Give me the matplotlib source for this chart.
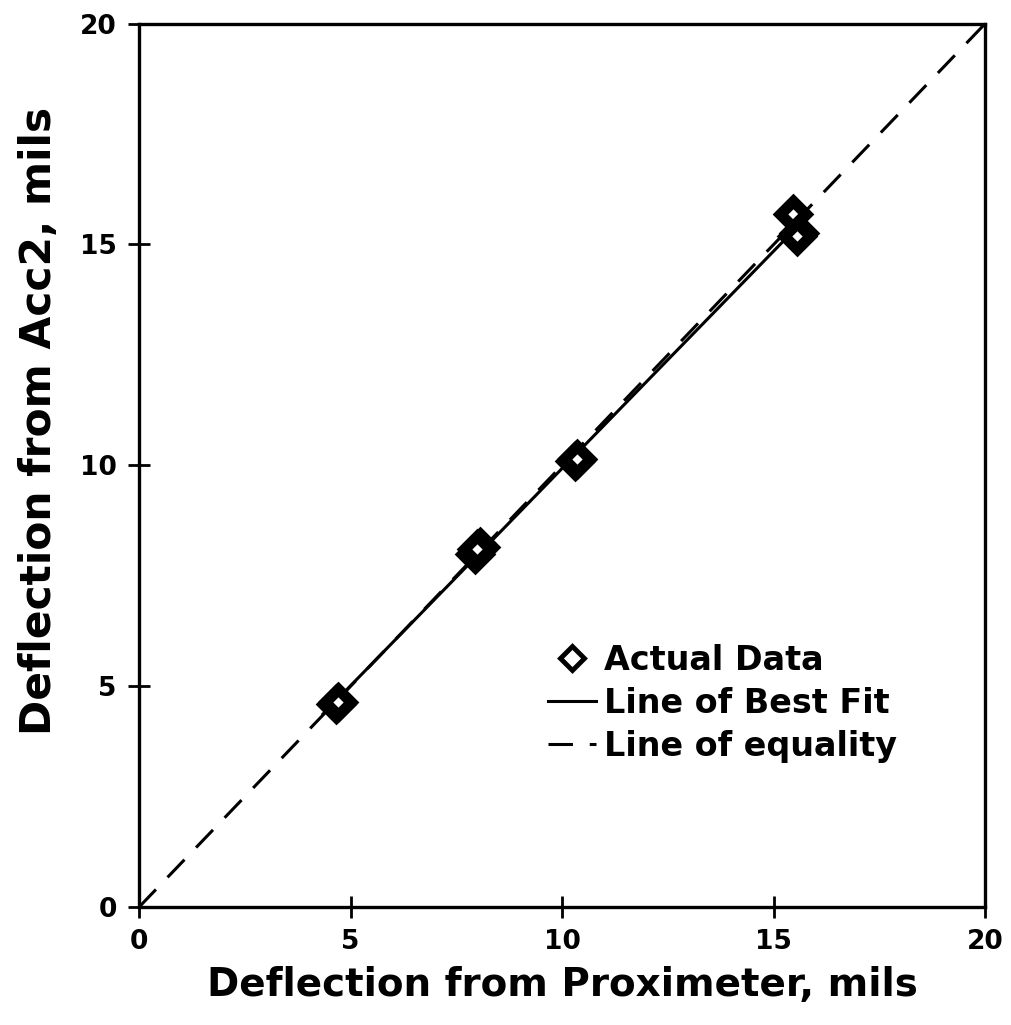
import numpy as np
import matplotlib.pyplot as plt
from matplotlib.lines import Line2D

# readings (several readings overlap at each point)
prox = [4.65, 4.70, 7.95, 8.05, 8.00, 10.30, 10.35, 15.45, 15.60, 15.55]
acc2 = [4.60, 4.65, 8.00, 8.15, 8.10, 10.10, 10.15, 15.70, 15.25, 15.20]

prox = np.array(prox)
acc2 = np.array(acc2)

fig = plt.figure(figsize=(10.11, 10.25), dpi=100)
ax = fig.add_axes([0.1375, 0.115, 0.837, 0.862])

# line of equality
ax.plot([0, 20], [0, 20], color='black', lw=2.2, dashes=(8, 5.5))

# best fit
p = np.polyfit(prox, acc2, 1)
xf = np.array([prox.min() - 0.3, prox.max()])
ax.plot(xf, np.polyval(p, xf), color='black', lw=2.2)

ax.plot(prox, acc2, linestyle='none', marker='D', ms=13.5, mfc='white',
        mec='black', mew=8)

ax.set_xlim(0, 20)
ax.set_ylim(0, 20)
ax.set_xticks([0, 5, 10, 15, 20])
ax.set_yticks([0, 5, 10, 15, 20])
ax.tick_params(direction='inout', length=16, width=2, labelsize=19, pad=8)
for lab in ax.get_xticklabels() + ax.get_yticklabels():
    lab.set_fontweight('bold')
for s in ax.spines.values():
    s.set_linewidth(2.4)

ax.set_xlabel('Deflection from Proximeter, mils', fontsize=28, fontweight='bold', labelpad=8)
ax.set_ylabel('Deflection from Acc2, mils', fontsize=30.5, fontweight='bold')
ax.yaxis.set_label_coords(-0.093, 0.55)

handles = [
    Line2D([], [], linestyle='none', marker='D', ms=12, mfc='white', mec='black', mew=3.5),
    Line2D([], [], color='black', lw=2.2),
    Line2D([], [], color='black', lw=2.2, dashes=(8, 5.5)),
]
labels = ['Actual Data', 'Line of Best Fit', 'Line of equality']
ax.legend(handles, labels, loc='upper left', bbox_to_anchor=(0.467, 0.313),
          frameon=False, prop={'weight': 'bold', 'size': 24},
          handlelength=1.45, handletextpad=0.25, labelspacing=0.3,
          borderaxespad=0)

plt.savefig('out.png', dpi=100)
